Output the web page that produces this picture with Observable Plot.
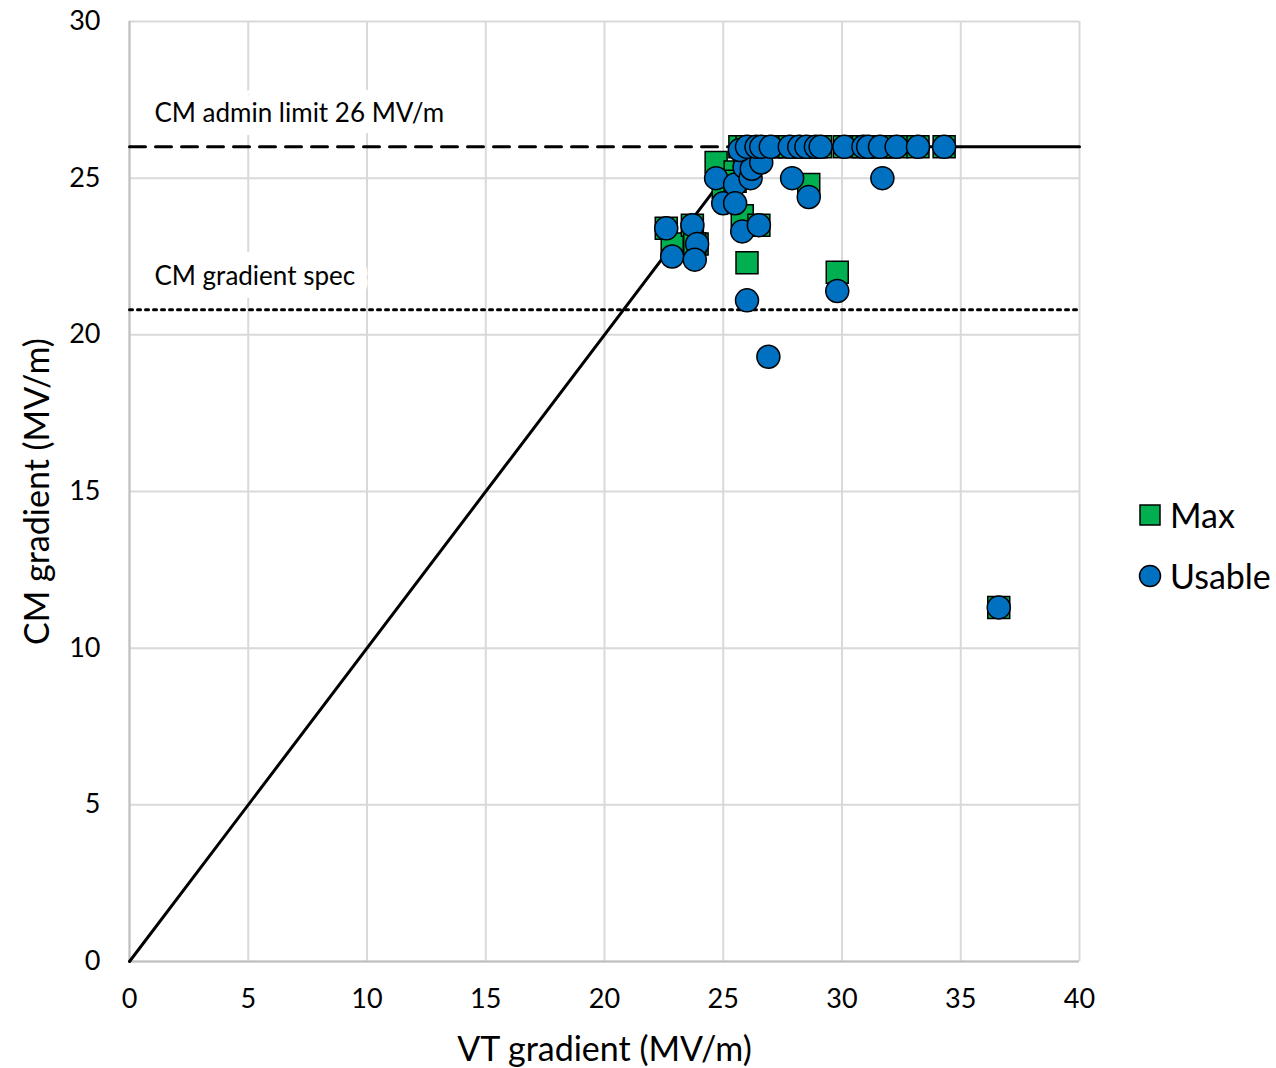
<!DOCTYPE html>
<html><head><meta charset="utf-8">
<script src="https://cdn.jsdelivr.net/npm/d3@7"></script>
<script src="https://cdn.jsdelivr.net/npm/@observablehq/plot@0.6"></script>
<style>
body{margin:0;background:#fff;font-family:Lato,"Open Sans",sans-serif}
#wrap{position:relative;width:1276px;height:1068px}
#legend{position:absolute;left:1138px;top:496px;font-size:34px;color:#000;line-height:1}
.li{display:flex;align-items:center;height:38px;margin-bottom:23px}
.li svg{margin-right:8px}
</style></head><body><div id="wrap"><div id="legend"></div></div>
<script>
// Cavity data: VT gradient, Max CM gradient, Usable CM gradient (MV/m)
const vt      = [22.6, 22.85, 23.7, 23.9, 23.8, 24.7, 25.0, 25.5, 25.5, 25.8, 26.5, 26.0, 26.9, 29.8, 28.6, 27.9, 31.7, 25.9, 26.15, 26.2, 26.6, 25.7, 26.0, 26.4, 26.6, 27.0, 27.8, 28.2, 28.5, 28.9, 29.1, 30.1, 30.9, 31.1, 31.6, 32.3, 33.2, 34.3, 36.6];
const maxGrad = [23.4, 22.9, 23.5, 22.9, 22.9, 25.5, 24.7, 25.2, 24.9, 23.8, 23.5, 22.3, 26.0, 22.0, 24.8, 26.0, 26.0, 25.6, 25.8, 26.0, 26.0, 26.0, 26.0, 26.0, 26.0, 26.0, 26.0, 26.0, 26.0, 26.0, 26.0, 26.0, 26.0, 26.0, 26.0, 26.0, 26.0, 26.0, 11.3];
const usable  = [23.4, 22.5, 23.5, 22.9, 22.4, 25.0, 24.2, 24.8, 24.2, 23.3, 23.5, 21.1, 19.3, 21.4, 24.4, 25.0, 25.0, 25.35, 25.0, 25.3, 25.5, 25.9, 26.0, 26.0, 26.0, 26.0, 26.0, 26.0, 26.0, 26.0, 26.0, 26.0, 26.0, 26.0, 26.0, 26.0, 26.0, 26.0, 11.3];

const xTicks = [0, 5, 10, 15, 20, 25, 30, 35, 40];
const yTicks = [0, 5, 10, 15, 20, 25, 30];

// Reference lines
const limitX = [0, 26, 40];
const limitY = [0, 26, 26];
const adminLimit = 26;
const adminX = [0, 25.3];
const gradientSpec = 20.8;
const specX = [0, 40];

const labelText = ["CM admin limit 26 MV/m", "CM gradient spec"];
const labelX = [1.05, 1.05];
const labelY = [27.05, 21.85];

const seriesNames = ["Max", "Usable"];
const green = "#00B050", blue = "#0070C0";

const pts = vt.map((v, i) => ({vt: v, max: maxGrad[i], usable: usable[i]}));
const limitLine = limitX.map((x, i) => ({x, y: limitY[i]}));
const adminLine = adminX.map(x => ({x, y: adminLimit}));
const specLine = specX.map(x => ({x, y: gradientSpec}));
const labels = labelText.map((t, i) => ({t, x: labelX[i], y: labelY[i]}));

const chart = Plot.plot({
  width: 1276, height: 1068,
  marginLeft: 129, marginRight: 197, marginTop: 21, marginBottom: 107,
  style: {fontFamily: "Lato, 'Open Sans', sans-serif", background: "white", color: "#000"},
  x: {domain: [0, 40], ticks: xTicks},
  y: {domain: [0, 30], ticks: yTicks},
  marks: [
    Plot.gridX(xTicks, {stroke: "#d9d9d9", strokeOpacity: 1, strokeWidth: 2}),
    Plot.gridY(yTicks, {stroke: "#d9d9d9", strokeOpacity: 1, strokeWidth: 2}),
    Plot.ruleX([0], {stroke: "#bfbfbf", strokeWidth: 2}),
    Plot.ruleY([0], {stroke: "#bfbfbf", strokeWidth: 2}),
    Plot.axisX(xTicks, {tickSize: 0, tickPadding: 27, fontSize: 27, label: null}),
    Plot.axisY(yTicks, {tickSize: 0, tickPadding: 29, fontSize: 27, label: null}),
    Plot.text(labels, {x: "x", y: "y", text: "t", textAnchor: "start", fontSize: 26, fill: "#000",
      stroke: "white", strokeWidth: 26, strokeLinejoin: "round", paintOrder: "stroke"}),
    Plot.line(specLine, {x: "x", y: "y", stroke: "#000", strokeWidth: 3, strokeDasharray: "3,5"}),
    Plot.line(adminLine, {x: "x", y: "y", stroke: "#000", strokeWidth: 3, strokeDasharray: "16,10"}),
    Plot.line(limitLine, {x: "x", y: "y", stroke: "#000", strokeWidth: 3}),
    Plot.dot(pts, {x: "vt", y: "max", symbol: "square", r: 12.4, fill: green, stroke: "#000", strokeWidth: 1.5}),
    Plot.dot(pts, {x: "vt", y: "usable", symbol: "circle", r: 11.5, fill: blue, stroke: "#000", strokeWidth: 1.5}),
    Plot.text(["VT gradient (MV/m)"], {frameAnchor: "bottom", textAnchor: "middle", lineAnchor: "middle", dy: 89, fontSize: 34, fill: "#000"}),
    Plot.text(["CM gradient (MV/m)"], {frameAnchor: "left", textAnchor: "middle", lineAnchor: "middle", dx: -91, rotate: -90, fontSize: 34, fill: "#000"})
  ]
});
document.getElementById("wrap").prepend(chart);

const lg = document.getElementById("legend");
lg.innerHTML = seriesNames.map((n, i) => `<div class="li"><svg width="24" height="24" viewBox="0 0 24 24">${
  i === 0 ? `<rect x="2" y="2" width="20" height="20" fill="${green}" stroke="#000" stroke-width="1.5"/>`
          : `<circle cx="12" cy="12" r="10.5" fill="${blue}" stroke="#000" stroke-width="1.5"/>`}</svg><span>${n}</span></div>`).join("");
</script></body></html>
